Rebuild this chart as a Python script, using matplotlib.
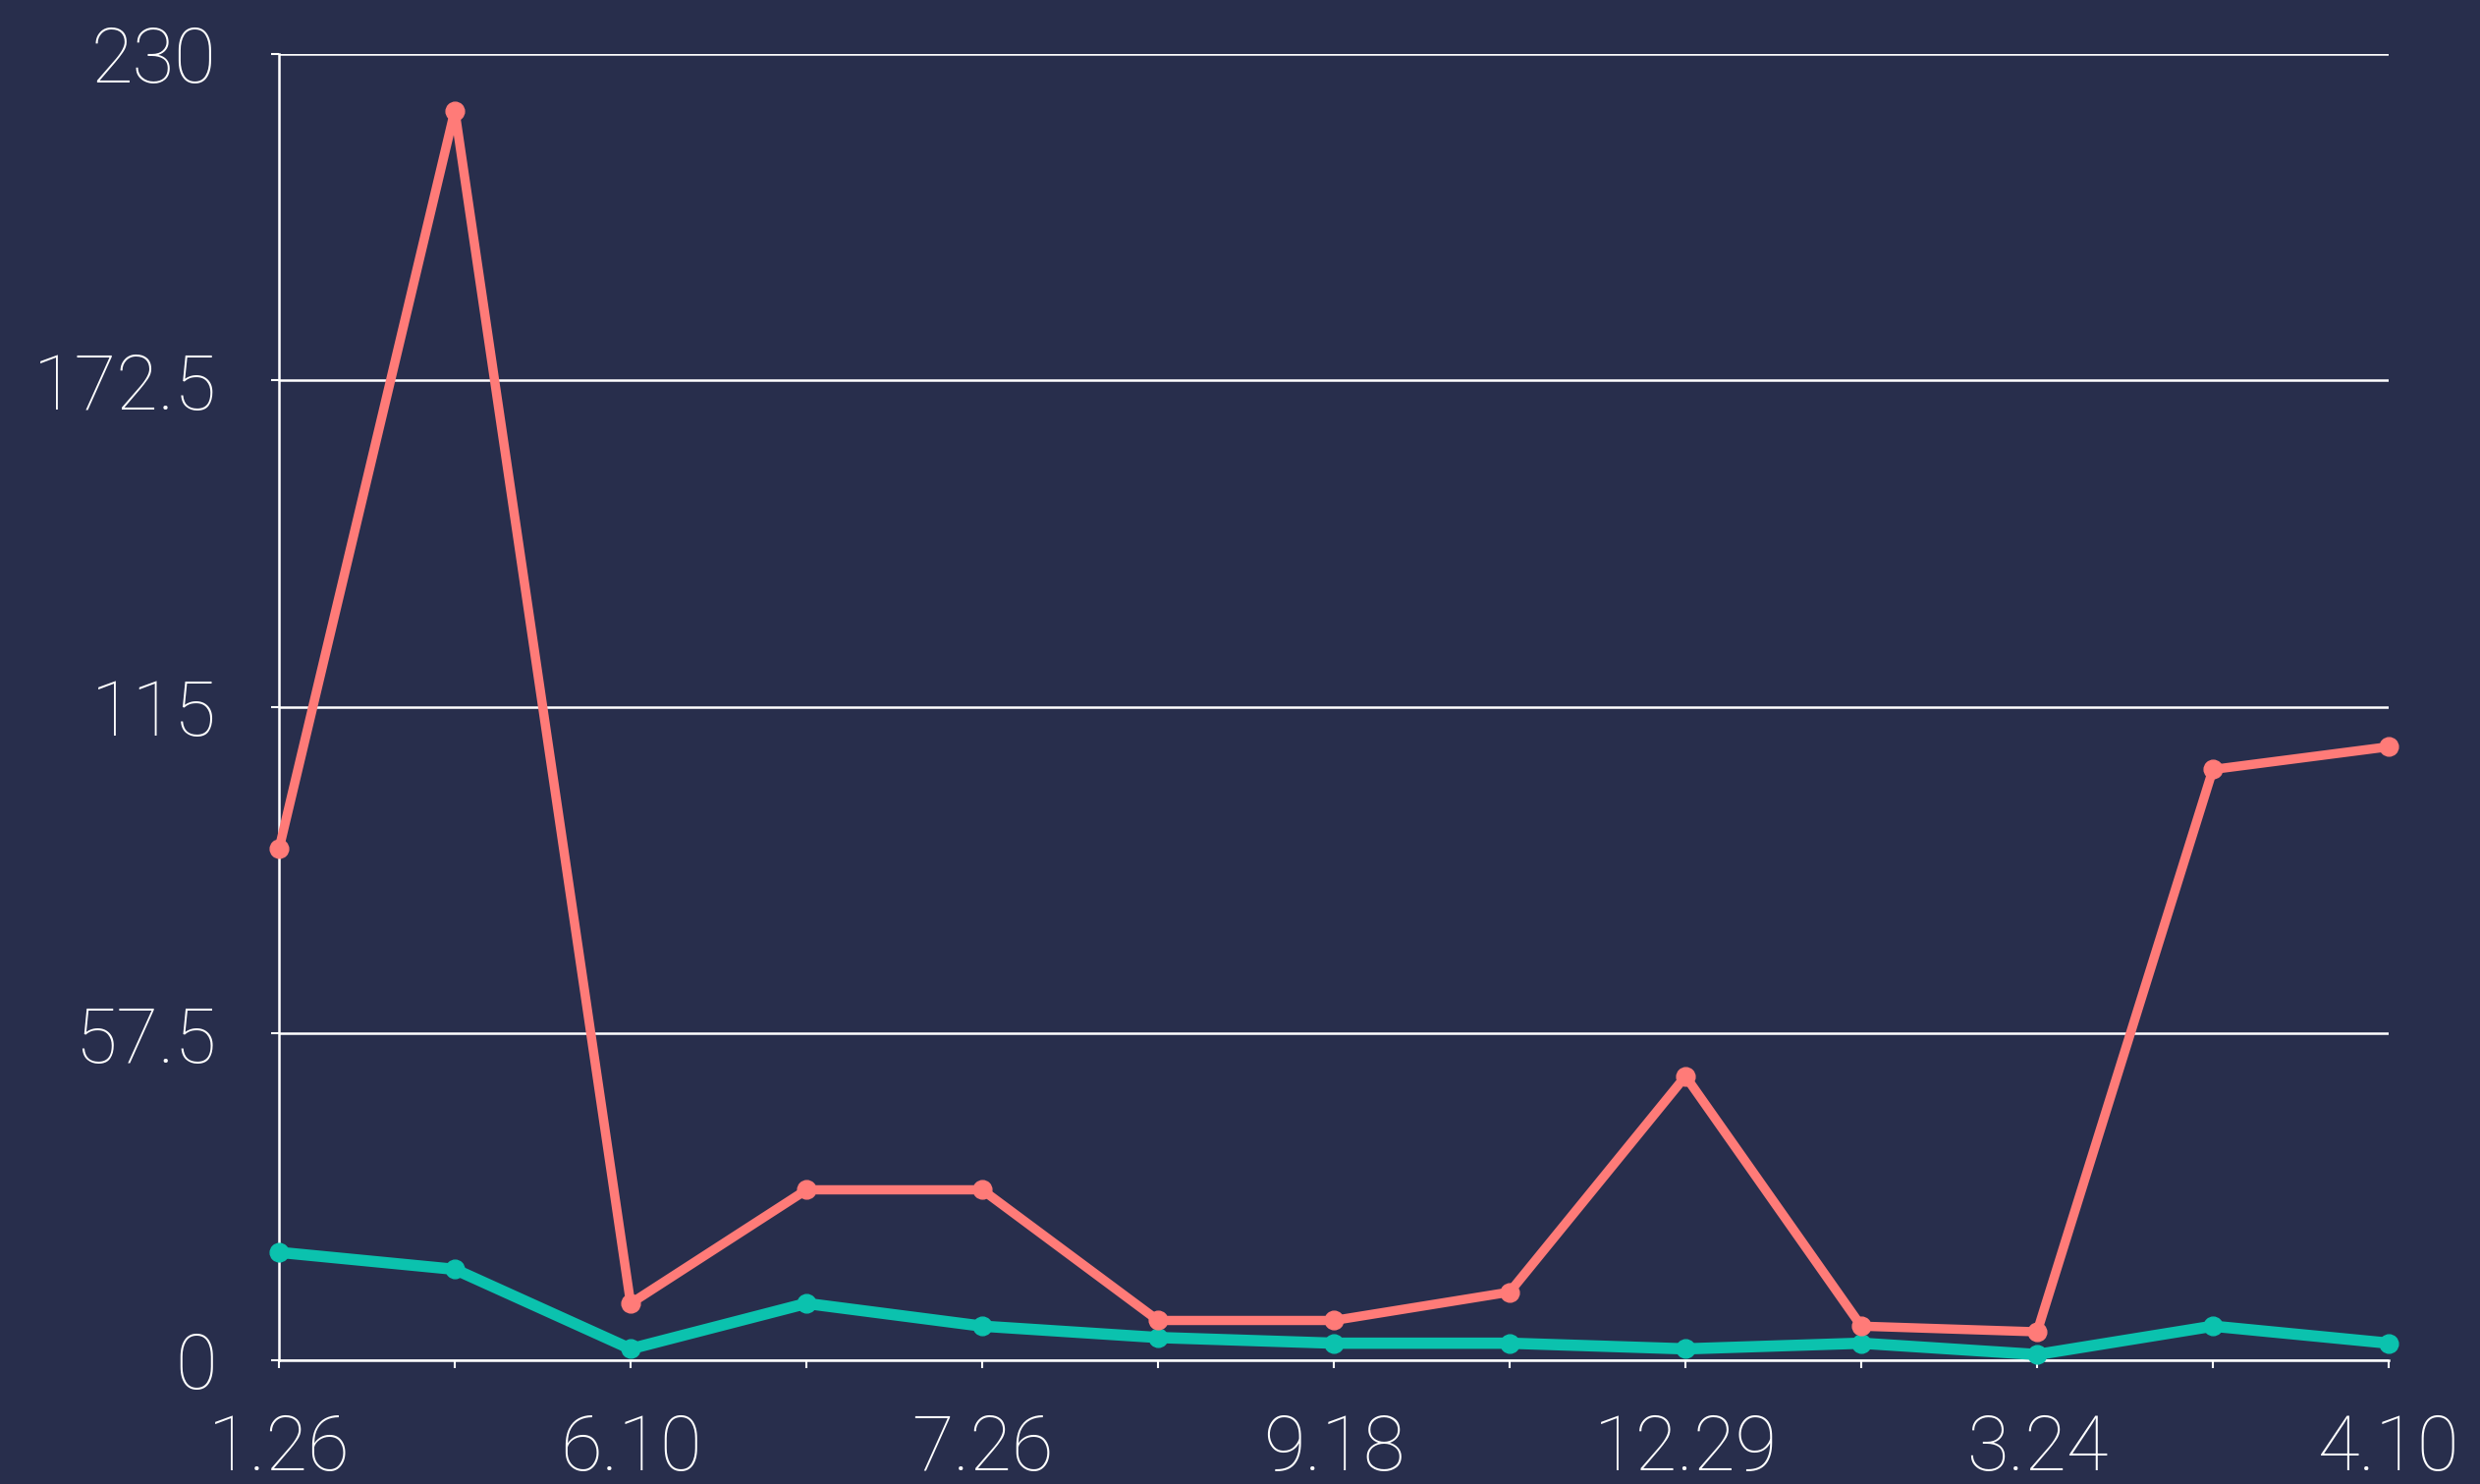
import matplotlib
matplotlib.use("Agg")
import matplotlib.pyplot as plt

# dados
datas = ["1.26", "", "6.10", "", "7.26", "", "9.18", "", "12.29", "", "3.24", "", "4.10"]
serie_coral = [90, 220, 10, 30, 30, 7, 7, 12, 50, 6, 5, 104, 108]
serie_verde = [19, 16, 2, 10, 6, 4, 3, 3, 2, 3, 1, 6, 3]
y_ticks = [0, 57.5, 115, 172.5, 230]
y_labels = ["0", "57.5", "115", "172.5", "230"]

fundo = "#282e4c"
coral = "#ff7b78"
verde = "#0bc2ae"

plt.rcParams['font.family'] = ['Roboto', 'DejaVu Sans']

fig = plt.figure(figsize=(25.25, 15.11), dpi=100, facecolor=fundo)
ax = fig.add_axes([0.1125, 0.0834, 0.9632 - 0.1125, 0.9638 - 0.0834])
ax.set_facecolor(fundo)

x = list(range(len(datas)))
ax.plot(x, serie_verde, color=verde, lw=8.3, marker="o", ms=13.5, clip_on=False, zorder=3)
ax.plot(x, serie_coral, color=coral, lw=6.8, marker="o", ms=13.5, clip_on=False, zorder=4)

ax.set_xlim(0, len(datas) - 1)
ax.set_ylim(0, 230)
ax.set_xticks(x)
ax.set_xticklabels(datas)
ax.set_yticks(y_ticks)
ax.set_yticklabels(y_labels)

ax.grid(axis="y", color="white", lw=1.8)
ax.set_axisbelow(True)
for s in ["top", "right"]:
    ax.spines[s].set_visible(False)
for s in ["left", "bottom"]:
    ax.spines[s].set_color("white")
    ax.spines[s].set_linewidth(1.8)

ax.tick_params(axis="both", colors="white", length=5.8, width=1.5, labelsize=56)
ax.tick_params(axis="y", pad=40)
ax.tick_params(axis="x", pad=33)
for lbl in ax.get_xticklabels() + ax.get_yticklabels():
    lbl.set_fontweight("light")

fig.savefig("out.png", dpi=100, facecolor=fundo)
